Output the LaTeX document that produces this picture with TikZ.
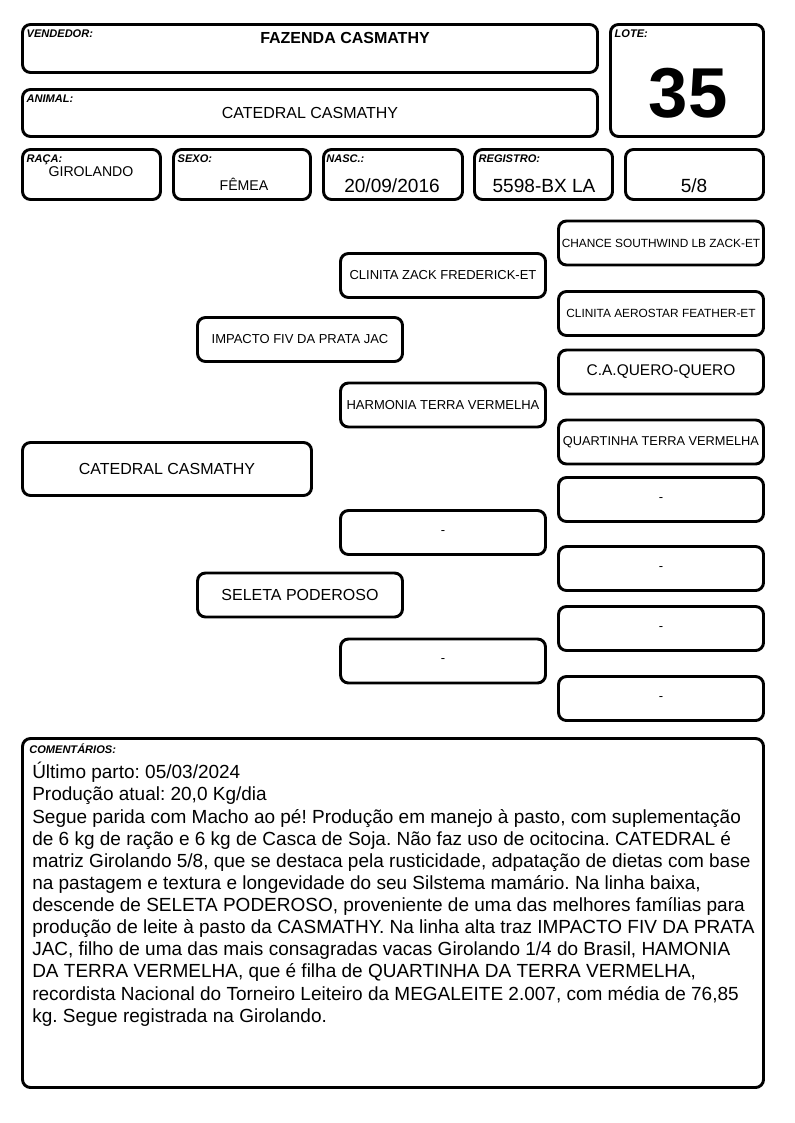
\documentclass[tikz,border=0pt]{standalone}
\usepackage{fontspec}
\setmainfont{Liberation Sans}
\usetikzlibrary{positioning}
\frenchspacing

\tikzset{
  cell/.style={draw,line width=2.2pt,rounded corners=6pt,inner sep=0pt,align=center},
  sz/.style 2 args={minimum width=#1*0.75pt,minimum height=#2*0.75pt},
  tag/.style={inner sep=0pt,font=\fontsize{8.3}{9}\selectfont\bfseries\itshape},
  ped/.style={cell,sz={205}{44},font=\fontsize{9.75}{11}\selectfont},
  pedsm/.style={ped,font=\fontsize{8.9}{10}\selectfont},
  valor/.style={inner sep=0pt,font=\fontsize{14.3}{16}\selectfont},
}

\begin{document}
\begin{tikzpicture}[x=0.75pt,y=-0.75pt,line cap=round,line join=round]
\useasboundingbox (0,0) rectangle (794,1123);
% cabecalho
\node[cell,sz={575}{48}] (vend) at (310,48.5) {};
\node[cell,sz={575}{47}] (anim) at (310,113) {};
\node[cell,sz={153}{112}] (lote) at (687,80.5) {};
\node[cell,sz={138}{50}] (raca) at (91.5,174.5) {};
\node[cell,sz={137}{50}] (sexo) at (242,174.5) {};
\node[cell,sz={139}{50}] (nasc) at (393,174.5) {};
\node[cell,sz={138}{50}] (reg) at (543.5,174.5) {};
\node[cell,sz={138}{50}] (grau) at (694.5,174.5) {};

\node[tag,below right=5pt and 4pt of vend.north west] (tvend) {VENDEDOR:};
\node[tag,below right=5pt and 4pt of anim.north west] (tanim) {ANIMAL:};
\node[tag,below right=5pt and 4pt of lote.north west] (tlote) {LOTE:};
\node[tag,below right=4.5pt and 4pt of raca.north west] (traca) {RAÇA:};
\node[tag,below right=5pt and 4pt of sexo.north west] (tsexo) {SEXO:};
\node[tag,below right=5pt and 3pt of nasc.north west] (tnasc) {NASC.:};
\node[tag,below right=5pt and 4pt of reg.north west] (treg) {REGISTRO:};

\node[inner sep=0pt,font=\fontsize{12}{14}\selectfont\bfseries] (fazenda) at (345,38) {FAZENDA CASMATHY};
\node[inner sep=0pt,font=\fontsize{12}{14}\selectfont] (nome) at (310,113) {CATEDRAL CASMATHY};
\node[inner sep=0pt,font=\fontsize{53}{60}\selectfont\bfseries] (numlote) at (688,93) {35};
\node[inner sep=0pt,font=\fontsize{10.6}{12}\selectfont] (vraca) at (91,172) {GIROLANDO};
\node[inner sep=0pt,font=\fontsize{10.6}{12}\selectfont] (vsexo) at (244,184) {FÊMEA};
\node[valor] (vnasc) at (392,186) {20/09/2016};
\node[valor] (vreg) at (544,186) {5598-BX LA};
\node[valor] (vgrau) at (694,186) {5/8};

% genealogia
\node[cell,sz={289}{53},font=\fontsize{12}{14}\selectfont] (animal) at (167,469) {CATEDRAL CASMATHY};
\node[ped] (pai) at (300,339.5) {IMPACTO FIV DA PRATA JAC};
\node[ped,font=\fontsize{12}{14}\selectfont] (mae) at (300,595) {SELETA PODEROSO};
\node[ped] (avopp) at (443,275.5) {CLINITA ZACK FREDERICK-ET};
\node[ped] (avopm) at (443,405) {HARMONIA TERRA VERMELHA};
\node[ped] (avomp) at (443,532.5) {-};
\node[ped] (avomm) at (443,661) {-};
\node[pedsm] (bis1) at (661,243) {CHANCE SOUTHWIND LB ZACK-ET};
\node[pedsm] (bis2) at (661,313.5) {CLINITA AEROSTAR FEATHER-ET};
\node[ped,font=\fontsize{11.6}{13}\selectfont] (bis3) at (661,372) {C.A.QUERO-QUERO};
\node[ped,font=\fontsize{9.6}{11}\selectfont] (bis4) at (661,442) {QUARTINHA TERRA VERMELHA};
\node[ped] (bis5) at (661,499.5) {-};
\node[ped] (bis6) at (661,568.5) {-};
\node[ped] (bis7) at (661,628.5) {-};
\node[ped] (bis8) at (661,698.5) {-};

% comentarios
\node[cell,sz={741}{349}] (coment) at (393,913) {};
\node[tag,below right=5pt and 6pt of coment.north west] (tcoment) {COMENTÁRIOS:};
\node[anchor=north west,inner sep=0pt,align=left,font=\fontsize{14.25}{16.6}\selectfont] (texto) at (32,762) {Último parto: 05/03/2024\\
Produção atual: 20,0 Kg/dia\\
Segue parida com Macho ao pé! Produção em manejo à pasto, com suplementação\\
de 6 kg de ração e 6 kg de Casca de Soja. Não faz uso de ocitocina. CATEDRAL é\\
matriz Girolando 5/8, que se destaca pela rusticidade, adpatação de dietas com base\\
na pastagem e textura e longevidade do seu Silstema mamário. Na linha baixa,\\
descende de SELETA PODEROSO, proveniente de uma das melhores famílias para\\
produção de leite à pasto da CASMATHY. Na linha alta traz IMPACTO FIV DA PRATA\\
JAC, filho de uma das mais consagradas vacas Girolando 1/4 do Brasil, HAMONIA\\
DA TERRA VERMELHA, que é filha de QUARTINHA DA TERRA VERMELHA,\\
recordista Nacional do Torneiro Leiteiro da MEGALEITE 2.007, com média de 76,85\\
kg. Segue registrada na Girolando.};
\end{tikzpicture}
\end{document}
